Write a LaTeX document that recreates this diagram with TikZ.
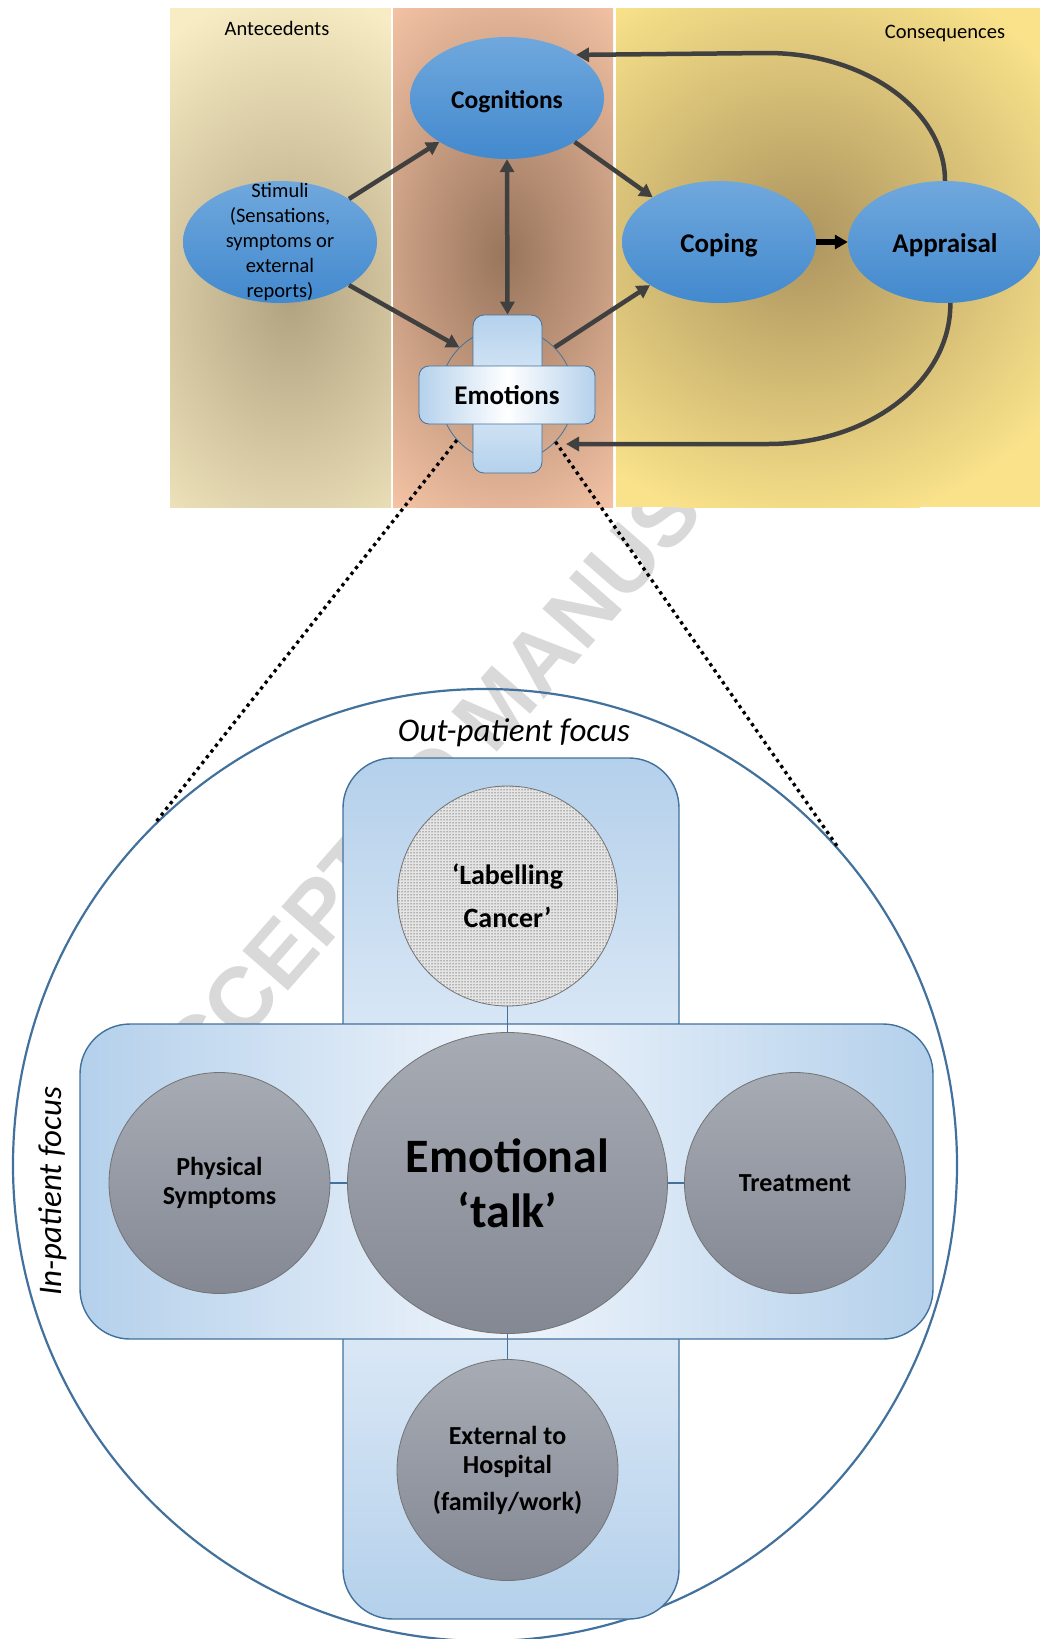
\documentclass[tikz,border=0pt]{standalone}
\usepackage{fontspec}
\setmainfont{Carlito}
\setsansfont{Liberation Sans}
\usetikzlibrary{shapes.geometric,arrows.meta,patterns}
\definecolor{antL}{RGB}{247,236,196}
\definecolor{antD}{RGB}{178,163,128}
\definecolor{midL}{RGB}{246,196,166}
\definecolor{midD}{RGB}{152,117,92}
\definecolor{conL}{RGB}{249,226,138}
\definecolor{conD}{RGB}{172,148,95}
\definecolor{ellT}{RGB}{112,168,221}
\definecolor{ellB}{RGB}{66,137,206}
\definecolor{barB}{RGB}{180,208,235}
\definecolor{barL}{RGB}{238,244,251}
\definecolor{emB}{RGB}{180,209,236}
\definecolor{emL}{RGB}{222,235,248}
\definecolor{edgeC}{RGB}{65,113,156}
\definecolor{grT}{RGB}{167,171,180}
\definecolor{grB}{RGB}{132,136,147}
\definecolor{arrC}{RGB}{64,64,64}
\definecolor{wmC}{RGB}{217,217,217}
\begin{document}
\begin{tikzpicture}[x=1pt,y=-1pt,
  blueell/.style={ellipse, minimum width=194pt, minimum height=122pt, inner sep=0pt, top color=ellT, bottom color=ellB, draw=none},
  conn/.style={draw=arrC, line width=4.5pt, -{Triangle[length=13pt,width=14pt]}},
  blk/.style={draw=black, line width=5.5pt, -{Triangle[length=13pt,width=14pt]}},
  dotl/.style={draw=black, line width=3.3pt, dash pattern=on 3.3pt off 4pt},
  graycirc/.style={circle, minimum size=221pt, inner sep=0pt, top color=grT, bottom color=grB, draw=black!55, line width=0.8pt, align=center, font=\bfseries\fontsize{26}{29}\selectfont},
  thinl/.style={draw=edgeC, line width=1.3pt},
  smalltxt/.style={font=\fontsize{20.5}{25}\selectfont, align=center},
]
\useasboundingbox (0,0) rectangle (1040,1639);

% watermark
\node[rotate=48.8, text=wmC, font=\sffamily\bfseries\fontsize{88}{100}\selectfont, inner sep=0pt] (wm) at (497,707) {ACCEPTED MANUSCRIPT};

% top panel columns
\fill[antL] (170,8) rectangle (391,507);
\begin{scope}
  \clip (170,8) rectangle (391,507);
  \shade[inner color=antD, outer color=antL] (290,300) ellipse [x radius=230, y radius=310];
\end{scope}
\fill[midL] (393,8) rectangle (613,507);
\begin{scope}
  \clip (393,8) rectangle (613,507);
  \shade[inner color=midD, outer color=midL] (505,255) ellipse [x radius=200, y radius=310];
\end{scope}
\fill[conL] (616,8) rectangle (1040,507);
\begin{scope}
  \clip (616,8) rectangle (1040,507);
  \shade[inner color=conD, outer color=conL] (800,240) ellipse [x radius=310, y radius=290];
\end{scope}

\node[smalltxt] (ant) at (277,28) {Antecedents};
\node[smalltxt] (cons) at (945,33) {Consequences};

% top nodes
\node[blueell] (cog) at (507,98) {};
\node[font=\bfseries\fontsize{25.5}{30}\selectfont] (cogt) at ([yshift=-4pt]cog.center) {Cognitions};
\node[blueell] (stim) at (280,242) {};
\node[smalltxt] (stimt) at (stim.center) {Stimuli\\(Sensations,\\symptoms or\\external\\reports)};
\node[blueell] (cop) at (719,242) {};
\node[font=\bfseries\fontsize{27}{32}\selectfont] (copt) at ([yshift=-3pt]cop.center) {Coping};
\node[blueell] (app) at (945,242) {};
\node[font=\bfseries\fontsize{27}{32}\selectfont] (appt) at ([yshift=-3pt]app.center) {Appraisal};

% emotions cross
\node[circle, minimum size=134pt, inner sep=0pt, draw=edgeC, line width=0.8pt] (emoc) at (507,395) {};
\node[rectangle, rounded corners=11pt, minimum width=69pt, minimum height=158pt, inner sep=0pt,
      draw=edgeC, line width=0.8pt, top color=emB, bottom color=emB, middle color=emL] (emov) at (507.5,394) {};
\node[rectangle, rounded corners=10pt, minimum width=176pt, minimum height=58pt, inner sep=0pt,
      draw=edgeC, line width=0.8pt, left color=emB, right color=emB, middle color=white,
      font=\bfseries\fontsize{27}{32}\selectfont] (emoh) at (507,395) {Emotions};

% arrows
\draw[conn] (stim.32) -- (cog.213);
\draw[conn] (stim.328) -- (emoc.135);
\draw[conn] (cog.327) -- (cop.146);
\draw[conn] (emoc.45) -- (cop.212);
\draw[conn, {Triangle[length=13pt,width=14pt]}-{Triangle[length=13pt,width=14pt]}] (cog.south) -- (emov.north);
\draw[blk] (cop.east) -- (app.west);
\draw[conn] (app.north) .. controls (945,111) and (866,53) .. (767,53) -- (cog.32);
\coordinate (emoin) at (566,444);
\draw[conn] (app.-85) .. controls (951,381) and (870,444) .. (768,444) -- (emoin);

% bottom magnified view
\node[ellipse, minimum width=944pt, minimum height=952pt, inner sep=0pt, draw=edgeC, line width=2.2pt] (big) at (485,1165) {};
\draw[dotl] (emoc.222) -- (big.134);
\draw[dotl] (emoc.-44) -- (big.42);

\node[rectangle, rounded corners=50pt, minimum width=336pt, minimum height=861pt, inner sep=0pt,
      draw=edgeC, line width=1.4pt, top color=barB, bottom color=barB, middle color=barL] (vbar) at (511,1188.5) {};
\node[rectangle, rounded corners=50pt, minimum width=853pt, minimum height=315pt, inner sep=0pt,
      draw=edgeC, line width=1.4pt, left color=barB, right color=barB, middle color=barL] (hbar) at (506.5,1181.5) {};

\node[font=\itshape\fontsize{33}{40}\selectfont] (outp) at (514,733) {Out-patient focus};
\node[rotate=90, font=\itshape\fontsize{33}{40}\selectfont] (inp) at (53,1191) {In-patient focus};

\node[circle, minimum size=220pt, inner sep=0pt, draw=black!55, line width=0.8pt,
      preaction={fill=black!10}, pattern=dots, pattern color=black,
      align=center, font=\bfseries\fontsize{28}{43}\selectfont] (lab) at (507.5,896) {‘Labelling\\Cancer’};
\node[ellipse, minimum width=320pt, minimum height=301pt, inner sep=0pt, top color=grT, bottom color=grB,
      draw=black!55, line width=0.8pt, align=center, font=\bfseries\fontsize{48}{55}\selectfont] (talk) at (507.5,1183) {Emotional\\‘talk’};
\node[graycirc] (phys) at (219.5,1183) {Physical\\Symptoms};
\node[graycirc] (treat) at (795,1183) {Treatment};
\node[graycirc] (ext) at (507.5,1470) {External to\\Hospital\\[8pt](family/work)};

\draw[thinl] (lab.south) -- (talk.north);
\draw[thinl] (phys.east) -- (talk.west);
\draw[thinl] (talk.east) -- (treat.west);
\draw[thinl] (talk.south) -- (ext.north);
\end{tikzpicture}
\end{document}
